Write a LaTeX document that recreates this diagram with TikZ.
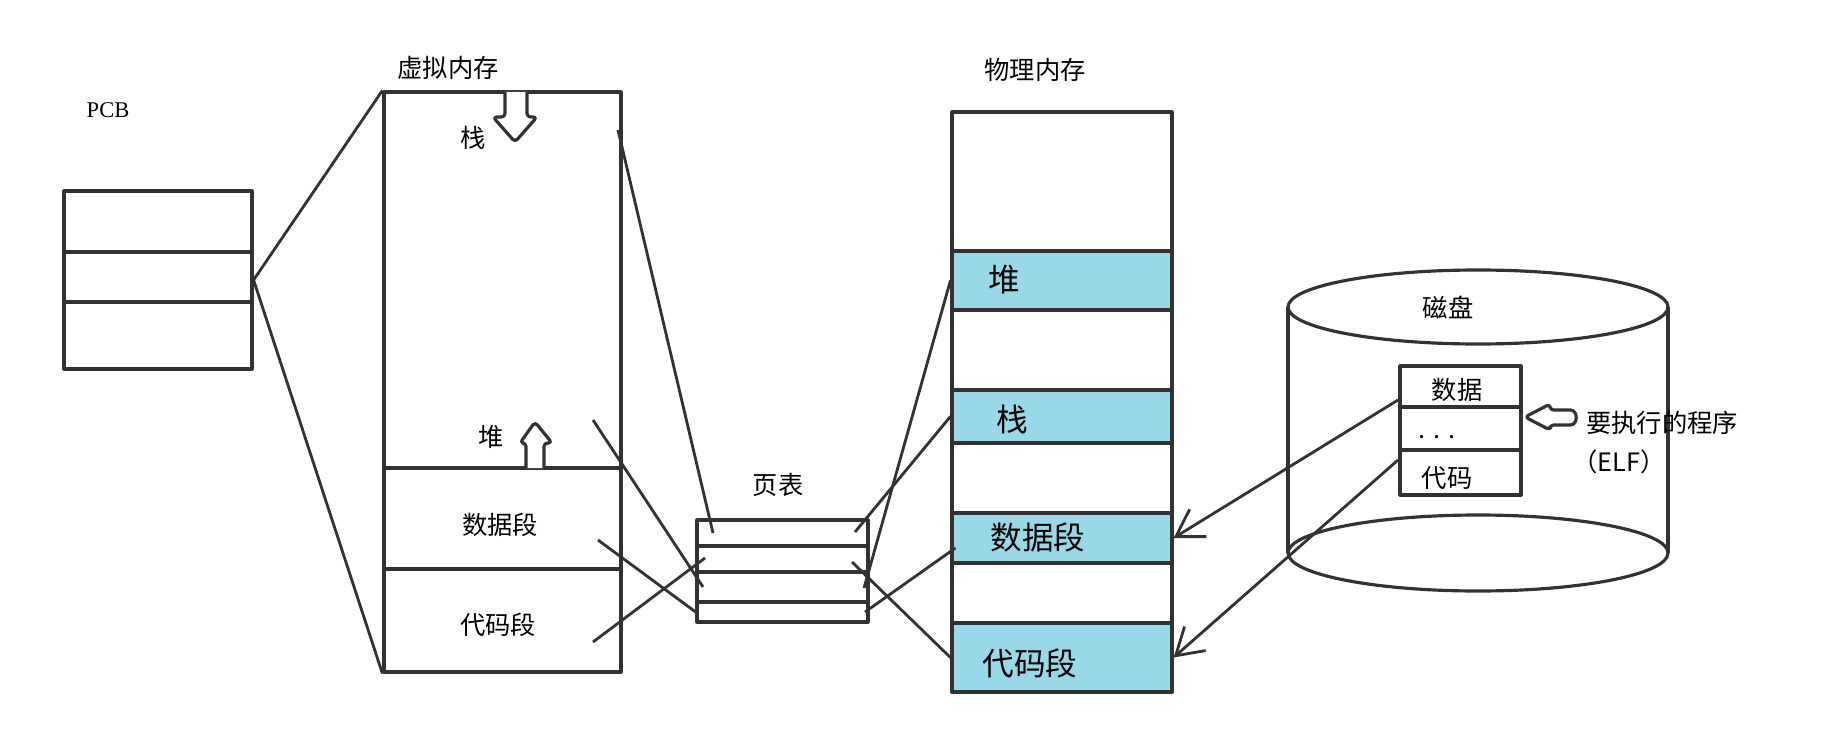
\documentclass[tikz,border=0pt]{standalone}
\usepackage{fontspec}
\setmainfont{Noto Sans CJK SC}
\newfontfamily\pcbfont{Liberation Serif}
\usetikzlibrary{arrows.meta,calc}
\definecolor{pmblue}{RGB}{152,216,232}
\definecolor{ink}{RGB}{50,50,50}

\begin{document}
\begin{tikzpicture}[line join=round,
    outline/.style={draw=ink, line width=0.9pt},
    box/.style={outline, inner sep=0pt},
    band/.style={box, fill=pmblue, minimum width=2.20cm},
    wire/.style={draw=ink, line width=0.8pt},
    fat/.style={outline, fill=white, rounded corners=1pt},
    lbl/.style={inner sep=0pt, font=\fontsize{7.2}{8}\selectfont},
    plbl/.style={inner sep=0pt, anchor=west, font=\fontsize{9}{10}\selectfont},
    >={Straight Barb[length=2.6mm, width=3.2mm]}]

    \useasboundingbox (0,0) rectangle (18.37,-7.42);

    % PCB
    \node[lbl, font=\pcbfont\fontsize{6.4}{7}\selectfont] at (1.08,-1.10) (pcbText) {PCB};
    \node[box, minimum width=1.88cm, minimum height=1.78cm] at (1.58,-2.80) (pcb) {};
    \draw[outline] (0.64,-2.52) -- (2.52,-2.52);
    \draw[outline] (0.64,-3.02) -- (2.52,-3.02);

    % Virtual memory
    \node[lbl] at (4.48,-0.68) (vmText) {虚拟内存};
    \node[box, minimum width=2.37cm, minimum height=5.80cm] at (5.025,-3.82) (vm) {};
    \draw[outline] (3.84,-4.68) -- (6.21,-4.68);
    \draw[outline] (3.84,-5.69) -- (6.21,-5.69);
    \node[lbl] at (4.73,-1.38) (vStackText) {栈};
    \node[lbl] at (4.91,-4.37) (vHeapText) {堆};
    \node[lbl] at (5.00,-5.25) (vDataText) {数据段};
    \node[lbl] at (4.98,-6.25) (vCodeText) {代码段};

    % Grow direction of stack and heap
    \draw[fat] (5.05,-0.92) -- (5.05,-1.17) -- (4.93,-1.17) -- (5.15,-1.42) -- (5.37,-1.17) -- (5.27,-1.17) -- (5.27,-0.92);
    \draw[fat] (5.26,-4.68) -- (5.26,-4.43) -- (5.20,-4.43) -- (5.35,-4.22) -- (5.52,-4.43) -- (5.44,-4.43) -- (5.44,-4.68);

    % PCB points to virtual memory
    \draw[wire] (pcb.east) -- (vm.north west);
    \draw[wire] (pcb.east) -- (vm.south west);

    % Page table
    \node[lbl] at (7.78,-4.85) (ptText) {页表};
    \node[box, minimum width=1.71cm, minimum height=1.02cm] at (7.825,-5.71) (pt) {};
    \draw[outline] (6.97,-5.46) -- (8.68,-5.46);
    \draw[outline] (6.97,-5.72) -- (8.68,-5.72);
    \draw[outline] (6.97,-6.02) -- (8.68,-6.02);

    % Physical memory
    \node[lbl] at (10.35,-0.70) (pmText) {物理内存};
    \node[box, minimum width=2.20cm, minimum height=5.80cm] at (10.62,-4.02) (pm) {};
    \node[band, minimum height=0.59cm] at (10.62,-2.805) (pheap) {};
    \node[band, minimum height=0.53cm] at (10.62,-4.165) (pstack) {};
    \node[band, minimum height=0.50cm] at (10.62,-5.38) (pdata) {};
    \node[band, minimum height=0.69cm] at (10.62,-6.575) (pcode) {};
    \node[plbl] at (9.88,-2.80) (pHeapText) {堆};
    \node[plbl] at (9.96,-4.19) (pStackText) {栈};
    \node[plbl] at (9.90,-5.37) (pDataText) {数据段};
    \node[plbl] at (9.82,-6.63) (pCodeText) {代码段};

    % Virtual memory -> page table -> physical memory
    \coordinate (vStack) at (6.18,-1.30);
    \coordinate (vHeap) at (5.93,-4.20);
    \coordinate (vData) at (5.98,-5.40);
    \coordinate (vCode) at (5.93,-6.42);
    \coordinate (pt1L) at (7.13,-5.33);
    \coordinate (pt2L) at (7.05,-5.58);
    \coordinate (pt3L) at (7.03,-5.87);
    \coordinate (pt4L) at (6.97,-6.13);
    \coordinate (pt1R) at (8.55,-5.32);
    \coordinate (pt2R) at (8.52,-5.62);
    \coordinate (pt3R) at (8.64,-5.88);
    \coordinate (pt4R) at (8.65,-6.12);
    \draw[wire] (vStack) -- (pt1L);
    \draw[wire] (vCode) -- (pt2L);
    \draw[wire] (vHeap) -- (pt3L);
    \draw[wire] (vData) -- (pt4L);
    \draw[wire] (pt1R) -- (pstack.west);
    \draw[wire] (pt2R) -- (pcode.west);
    \draw[wire] (pt3R) -- (pheap.west);
    \draw[wire] (pt4R) -- ($(pdata.west)+(0.05,-0.10)$);

    % Disk
    \draw[outline] (14.78,-3.07) ellipse (1.90 and 0.37);
    \draw[outline] (14.78,-5.53) ellipse (1.90 and 0.38);
    \draw[outline] (12.88,-3.07) -- (12.88,-5.53);
    \draw[outline] (16.68,-3.07) -- (16.68,-5.53);
    \node[lbl] at (14.48,-3.08) (disk) {磁盘};

    % Program file on disk
    \node[box, fill=white, minimum width=1.21cm, minimum height=1.29cm] at (14.605,-4.305) (elf) {};
    \draw[outline] (14.00,-4.07) -- (15.21,-4.07);
    \draw[outline] (14.00,-4.50) -- (15.21,-4.50);
    \node[lbl] at (14.57,-3.90) (elfData) {数据};
    \node[lbl] at (14.37,-4.37) (elfDots) {. . .};
    \node[lbl] at (14.47,-4.78) (elfCode) {代码};
    \draw[fat] (15.25,-4.17) -- (15.50,-4.04) -- (15.50,-4.10) -- (15.74,-4.10) -- (15.77,-4.175) -- (15.74,-4.25) -- (15.50,-4.25) -- (15.50,-4.30) -- cycle;
    \node[lbl] at (16.62,-4.23) (runText) {要执行的程序};
    \node[lbl] at (16.19,-4.62) (elfText) {（ELF）};

    % Loading into physical memory
    \coordinate (elfA) at (13.98,-4.00);
    \coordinate (elfB) at (13.98,-4.60);
    \draw[wire, ->] (elfA) -- (pdata.east);
    \draw[wire, ->] (elfB) -- (pcode.east);
\end{tikzpicture}
\end{document}
